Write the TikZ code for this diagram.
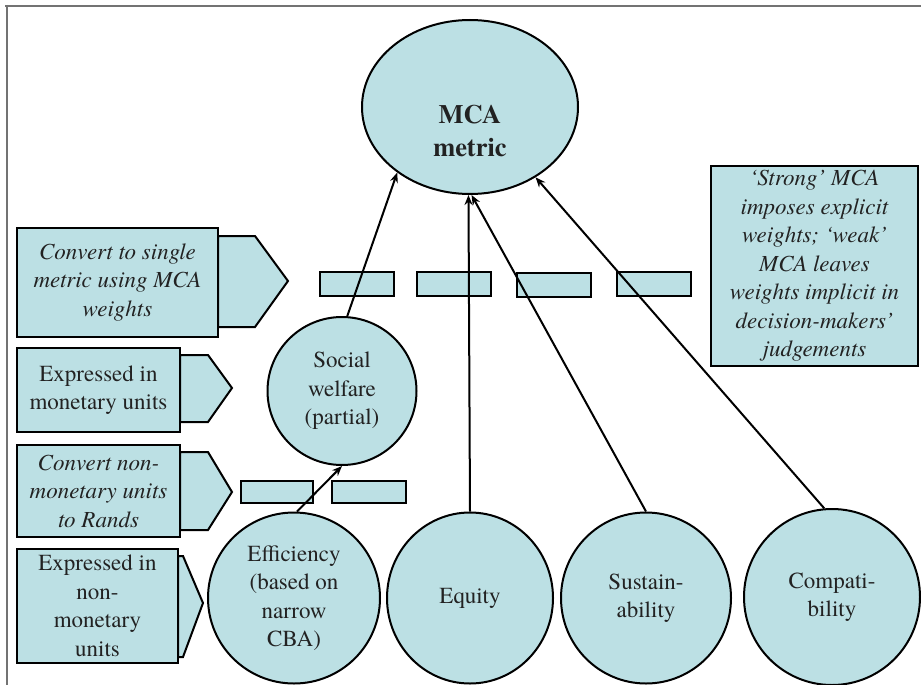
\documentclass[tikz,border=0pt]{standalone}
\usepackage{fontspec}
\setmainfont{texgyretermes}[Extension=.otf, UprightFont=*-regular, BoldFont=*-bold, ItalicFont=*-italic, BoldItalicFont=*-bolditalic]
\usetikzlibrary{arrows.meta,shapes.geometric}
\definecolor{boxfill}{HTML}{BCE0E4}
\definecolor{txt}{HTML}{222222}
\begin{document}
\begin{tikzpicture}[x=1pt,y=-1pt,
  every node/.style={text=txt, font=\fontsize{23}{28.5}\selectfont},
  shapefill/.style={fill=boxfill, draw=black, line width=2pt, line join=miter},
  bubble/.style={shapefill, ellipse, inner sep=0pt, align=center},
  note/.style={shapefill, rectangle, inner sep=0pt, align=center},
  italnote/.style={note, font=\itshape\fontsize{23}{28.5}\selectfont},
  bar/.style={shapefill, rectangle, inner sep=0pt, minimum width=74pt, minimum height=24pt},
  conn/.style={draw=black, line width=2pt, -{Stealth[length=10pt,width=8pt]}},
  frame/.style={draw=black!55, line width=2pt}]
\useasboundingbox (0,0) rectangle (921,685);
% frame
\draw[frame] (5,6) -- (921,6);
\draw[frame] (7,5) -- (7,685);

% top ellipse
\node[bubble, minimum width=216pt, minimum height=174pt] (mca) at (470,107) {};
\node[font=\bfseries\fontsize{26.5}{33}\selectfont, align=center] (mcat) at (470,131) {MCA\\metric};

% small bars
\node[bar] (ra) at (357,284) {};
\node[bar] (rb) at (454,284) {};
\node[bar] (rc) at (554,285) {};
\node[bar] (rd) at (654,284) {};
\node[bar, minimum width=72pt, minimum height=22pt] (re) at (277,492) {};
\node[bar, minimum width=74pt, minimum height=22pt] (rf) at (369,492) {};

% social welfare
\node[bubble, minimum width=149pt, minimum height=148pt] (sw) at (342,391) {Social\\welfare\\(partial)};

% bottom ellipses
\node[bubble, minimum width=172pt, minimum height=171pt] (eff) at (294,598) {Efficiency\\(based on\\narrow\\CBA)};
\node[bubble, minimum width=166pt, minimum height=171pt] (eq) at (470,598) {Equity};
\node[bubble, minimum width=170pt, minimum height=171pt] (sus) at (646,598) {Sustain-\\ability};
\node[bubble, minimum width=176pt, minimum height=176pt] (comp) at (832,597) {Compati-\\bility};

% left arrow tabs
\draw[shapefill] (218,236) -- (255,236) -- (288,281) -- (255,327) -- (218,327) -- cycle;
\draw[shapefill] (180,355) -- (208,355) -- (232,388) -- (208,422) -- (180,422) -- cycle;
\draw[shapefill] (180,452) -- (208,452) -- (232,492) -- (208,530) -- (180,530) -- cycle;
\draw[shapefill] (178,556) -- (183,556) -- (203,603) -- (183,657) -- (178,657) -- cycle;

% left boxes
\node[italnote, minimum width=201pt, minimum height=109pt] (l1) at (117.5,282.5) {Convert to single\\metric using MCA\\weights};
\node[note, minimum width=163pt, minimum height=84pt] (l2) at (98.5,390) {Expressed in\\monetary units};
\node[italnote, minimum width=163pt, minimum height=92pt] (l3) at (98.5,491) {Convert non-\\monetary units\\to Rands};
\node[note, minimum width=161pt, minimum height=114pt] (l4) at (97.5,606) {Expressed in\\non-\\monetary\\units};

% right note
\node[italnote, minimum width=207pt, minimum height=200pt] (strong) at (814.5,266) {`Strong' MCA\\imposes explicit\\weights; `weak'\\MCA leaves\\weights implicit in\\decision-makers'\\judgements};

% connectors
\draw[conn] (sw.86) -- (mca.-138);
\draw[conn] (eff.88) -- (sw.-90);
\draw[conn] (eq.north) -- (mca.-91);
\draw[conn] (sus.north) -- (mca.-89);
\draw[conn] (comp.95) -- (mca.-47);
\end{tikzpicture}
\end{document}
